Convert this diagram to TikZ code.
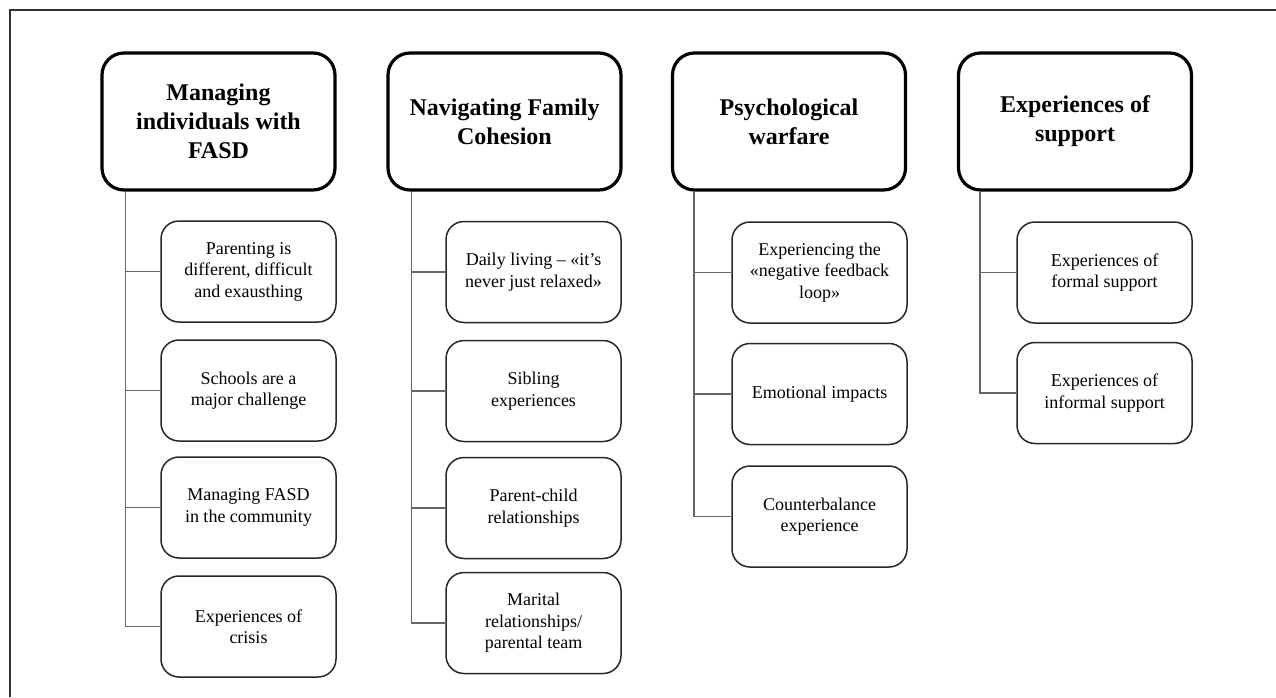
\documentclass[tikz,border=0pt]{standalone}
\usepackage{fontspec}
\setmainfont{Liberation Serif}
\begin{document}
\begin{tikzpicture}[x=1pt,y=-1pt,
  titlebox/.style={draw=black,line width=3.2pt,rounded corners=22pt,minimum width=233pt,minimum height=137pt,inner sep=0pt,align=center,font=\fontsize{24}{29}\selectfont\bfseries},
  subbox/.style={draw=black!85,line width=1.5pt,rounded corners=18pt,minimum width=175pt,minimum height=101pt,inner sep=0pt,align=center,font=\fontsize{18}{21.5}\selectfont},
  conn/.style={draw=black!60,line width=1.2pt},
  frame/.style={draw=black!80,line width=1.2pt}]
\useasboundingbox (0,0) rectangle (1276,697);
\draw[frame] (10,697) -- (10,10) -- (1276,10);
% titles
\node[titlebox] (t1) at (218.5,121.5) {Managing\\individuals with\\FASD};
\node[titlebox] (t2) at (504.5,121.5) {Navigating Family\\Cohesion};
\node[titlebox] (t3) at (789,121.5) {Psychological\\warfare};
\node[titlebox] (t4) at (1075,121.5) {Experiences of\\support};
% column 1
\node[subbox] (a1) at (248.5,271.5) {Parenting is\\different, difficult\\and exausthing};
\node[subbox] (a2) at (248.5,390.5) {Schools are a\\major challenge};
\node[subbox] (a3) at (248.5,507.5) {Managing FASD\\in the community};
\node[subbox] (a4) at (248.5,626.5) {Experiences of\\crisis};
% column 2
\node[subbox] (b1) at (533.5,272) {Daily living – «it’s\\never just relaxed»};
\node[subbox] (b2) at (533.5,391) {Sibling\\experiences};
\node[subbox] (b3) at (533.5,508) {Parent-child\\relationships};
\node[subbox] (b4) at (533.5,623) {Marital\\relationships/\\parental team};
% column 3
\node[subbox] (c1) at (819.5,272.5) {Experiencing the\\«negative feedback\\loop»};
\node[subbox] (c2) at (819.5,394) {Emotional impacts};
\node[subbox] (c3) at (819.5,516.5) {Counterbalance\\experience};
% column 4
\node[subbox] (d1) at (1104.5,272.5) {Experiences of\\formal support};
\node[subbox] (d2) at (1104.5,393) {Experiences of\\informal support};
% connectors
\foreach \s in {a1,a2,a3,a4} \draw[conn] ([xshift=25pt]t1.south west) |- (\s.west);
\foreach \s in {b1,b2,b3,b4} \draw[conn] ([xshift=25pt]t2.south west) |- (\s.west);
\foreach \s in {c1,c2,c3} \draw[conn] ([xshift=23pt]t3.south west) |- (\s.west);
\foreach \s in {d1,d2} \draw[conn] ([xshift=23pt]t4.south west) |- (\s.west);
\end{tikzpicture}
\end{document}
